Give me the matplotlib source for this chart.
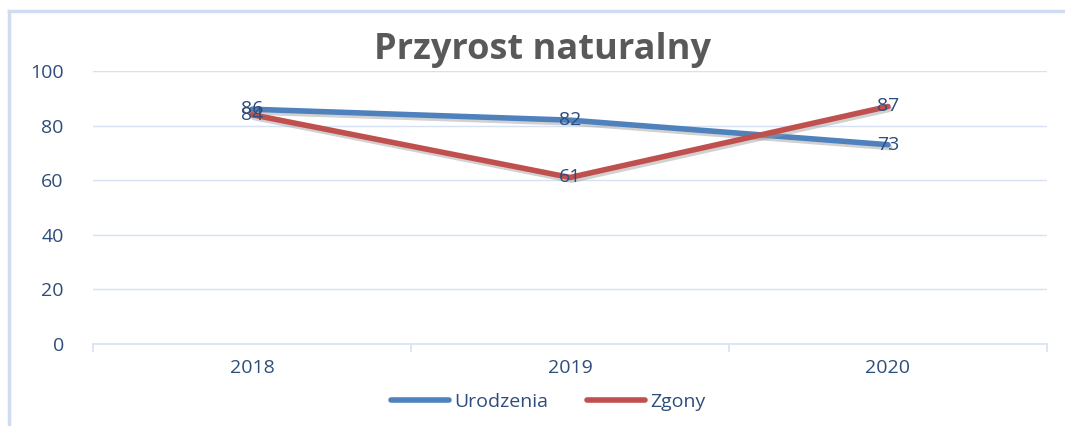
import matplotlib
matplotlib.use("Agg")
import matplotlib.pyplot as plt
import matplotlib.patheffects as pe
from matplotlib.lines import Line2D

years = ["2018", "2019", "2020"]
urodzenia = [86, 82, 73]
zgony = [84, 61, 87]
yticks = [0, 20, 40, 60, 80, 100]
title = "Przyrost naturalny"
series_names = ["Urodzenia", "Zgony"]

W, H = 1065, 426
fig = plt.figure(figsize=(W / 100, H / 100), dpi=100)
plt.rcParams['font.family'] = ['Open Sans', 'DejaVu Sans']

blue = "#4F81BD"
red = "#C0504D"
txt = "#2E4D7B"
grid = "#D6E2F3"
fs = 14

# chart border (left & top visible)
fig.add_artist(Line2D([8.5 / W, 8.5 / W], [0, 1 - 11 / H], transform=fig.transFigure,
                      color="#D0DDF0", lw=2.5))
fig.add_artist(Line2D([8.5 / W, 1], [1 - 11 / H, 1 - 11 / H], transform=fig.transFigure,
                      color="#D0DDF0", lw=2.5))

ax = fig.add_axes([93 / W, 1 - 344 / H, (1047 - 93) / W, (344 - 71) / H])
ax.set_xlim(-0.5, len(years) - 0.5)
ax.set_ylim(0, 100)
for s in ["top", "right", "left"]:
    ax.spines[s].set_visible(False)
ax.spines["bottom"].set_color(grid)
ax.spines["bottom"].set_linewidth(1.2)
ax.set_yticks(yticks)
ax.set_yticklabels([str(v) for v in yticks])
ax.yaxis.grid(True, color=grid, lw=1.0)
ax.set_axisbelow(True)
ax.tick_params(axis="y", length=0, pad=21, labelsize=fs, labelcolor=txt)
ax.set_xticks(range(len(years)))
ax.set_xticklabels(years)
ax.tick_params(axis="x", length=0, pad=11, labelsize=fs, labelcolor=txt)
# category boundary tick marks
ax.set_xticks([i - 0.5 for i in range(len(years) + 1)], minor=True)
ax.tick_params(axis="x", which="minor", length=6, color=grid, width=1.2)

x = list(range(len(years)))
shadow = [pe.SimpleLineShadow(offset=(1.2, -2.0), shadow_color="#999999", alpha=0.45), pe.Normal()]
ax.plot(x, urodzenia, color=blue, lw=4, solid_capstyle="round", path_effects=shadow, label=series_names[0], zorder=3)
ax.plot(x, zgony, color=red, lw=4, solid_capstyle="round", path_effects=shadow, label=series_names[1], zorder=3)

for xi, v in zip(x, urodzenia):
    ax.text(xi, v, str(v), ha="center", va="center", fontsize=fs, color=txt, zorder=5)
for xi, v in zip(x, zgony):
    ax.text(xi, v, str(v), ha="center", va="center", fontsize=fs, color=txt, zorder=5)

fig.text(543 / W, 1 - 50 / H, title, ha="center", va="center", fontsize=26,
         fontweight="bold", color="#595959")

handles = [Line2D([], [], color=blue, lw=4, solid_capstyle="round"),
           Line2D([], [], color=red, lw=4, solid_capstyle="round")]
fig.legend(handles, series_names, loc="center", bbox_to_anchor=(548 / W, 1 - 402 / H),
           ncol=2, frameon=False, fontsize=fs, labelcolor=txt, handlelength=3.0,
           handletextpad=0.25, columnspacing=2.0)

fig.savefig("out.png", dpi=100)
